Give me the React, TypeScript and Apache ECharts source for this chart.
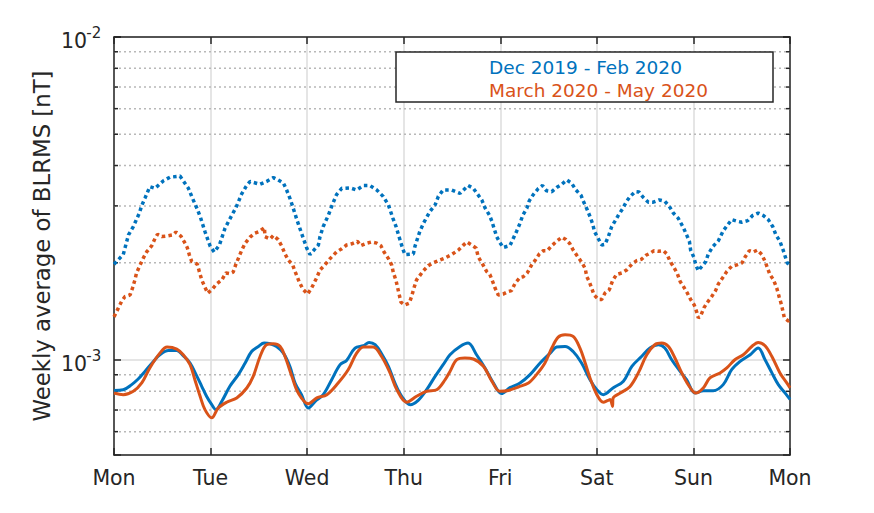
import React, { useEffect, useRef } from "react";
import * as echarts from "echarts";

// ---------- data ----------
const DAY_LABELS = ["Mon", "Tue", "Wed", "Thu", "Fri", "Sat", "Sun", "Mon"];
const SERIES_NAMES = ["Dec 2019 - Feb 2020", "March 2020 - May 2020"];
const COLORS = ["#0072BD", "#D95319"];
const Y_MIN = 5.08e-4;
const Y_MAX = 1e-2;
const Y_DECADES = [1e-3, 1e-2];
const Y_DECADE_EXPONENTS = ["-3", "-2"];
const MINOR_TICKS = [6e-4, 7e-4, 8e-4, 9e-4, 2e-3, 3e-3, 4e-3, 5e-3, 6e-3, 7e-3, 8e-3, 9e-3];

// [hour of week, value in nT]
const WINTER_DOTTED = [
  [0, 1.98e-3], [2.3, 2.12e-3], [3.6, 2.44e-3], [4.8, 2.59e-3], [6.3, 2.85e-3], [6.9, 3.01e-3], [7.7, 3.17e-3],
  [8.9, 3.44e-3], [10.2, 3.40e-3], [12.3, 3.59e-3], [13.9, 3.68e-3], [16.4, 3.71e-3], [18.5, 3.40e-3], [19.3, 3.21e-3],
  [20.7, 2.93e-3], [21.5, 2.76e-3], [22.6, 2.50e-3], [23.9, 2.25e-3], [24.9, 2.16e-3], [26.2, 2.27e-3], [27.6, 2.56e-3],
  [29.3, 2.81e-3], [30.3, 2.96e-3], [31.7, 3.26e-3], [32.8, 3.44e-3], [33.8, 3.57e-3], [36.3, 3.50e-3], [37.9, 3.57e-3],
  [39.6, 3.67e-3], [40.8, 3.61e-3], [42.1, 3.53e-3], [42.9, 3.36e-3], [43.7, 3.17e-3], [44.4, 2.99e-3], [45.4, 2.73e-3],
  [46.6, 2.47e-3], [47.9, 2.22e-3], [48.7, 2.12e-3], [50.8, 2.27e-3], [51.2, 2.41e-3], [52.0, 2.59e-3], [53.3, 2.81e-3],
  [54.1, 2.99e-3], [55.3, 3.25e-3], [56.6, 3.40e-3], [58.7, 3.41e-3], [60.3, 3.36e-3], [62.0, 3.47e-3], [63.6, 3.47e-3],
  [65.3, 3.36e-3], [66.9, 3.21e-3], [68.2, 3.02e-3], [69.3, 2.75e-3], [70.1, 2.59e-3], [70.7, 2.44e-3], [71.7, 2.22e-3],
  [72.3, 2.12e-3], [74.4, 2.13e-3], [74.8, 2.25e-3], [76.0, 2.50e-3], [76.9, 2.65e-3], [78.5, 2.88e-3], [79.8, 3.02e-3],
  [80.6, 3.21e-3], [81.8, 3.36e-3], [83.9, 3.36e-3], [86.0, 3.28e-3], [88.0, 3.47e-3], [89.3, 3.40e-3], [91.4, 3.13e-3],
  [92.2, 2.96e-3], [93.3, 2.81e-3], [93.9, 2.69e-3], [95.1, 2.41e-3], [95.8, 2.32e-3], [96.7, 2.23e-3], [98.4, 2.26e-3],
  [100.1, 2.51e-3], [100.9, 2.65e-3], [101.6, 2.81e-3], [102.6, 2.95e-3], [103.2, 3.11e-3], [104.2, 3.25e-3], [105.4, 3.39e-3],
  [106.5, 3.47e-3], [107.5, 3.34e-3], [108.8, 3.32e-3], [110.0, 3.42e-3], [111.3, 3.50e-3], [112.5, 3.61e-3], [113.7, 3.53e-3],
  [114.8, 3.36e-3], [116.1, 3.23e-3], [116.6, 3.11e-3], [117.5, 2.94e-3], [118.3, 2.78e-3], [119.0, 2.63e-3], [119.4, 2.50e-3],
  [120.4, 2.37e-3], [121.2, 2.27e-3], [122.0, 2.28e-3], [122.8, 2.40e-3], [123.7, 2.59e-3], [124.5, 2.69e-3], [125.3, 2.80e-3],
  [126.4, 2.94e-3], [127.4, 3.10e-3], [128.2, 3.20e-3], [129.5, 3.32e-3], [130.5, 3.31e-3], [131.5, 3.19e-3], [132.8, 3.08e-3],
  [134.0, 3.08e-3], [135.5, 3.13e-3], [136.9, 3.10e-3], [138.0, 2.99e-3], [139.0, 2.85e-3], [140.2, 2.75e-3], [141.5, 2.57e-3],
  [142.3, 2.44e-3], [143.0, 2.33e-3], [143.3, 2.19e-3], [144.1, 2.08e-3], [144.6, 1.97e-3], [145.2, 1.89e-3], [146.1, 1.95e-3],
  [147.1, 2.02e-3], [147.7, 2.13e-3], [148.9, 2.25e-3], [150.2, 2.34e-3], [151.4, 2.51e-3], [152.4, 2.61e-3], [153.5, 2.72e-3],
  [154.8, 2.69e-3], [156.0, 2.67e-3], [157.5, 2.70e-3], [158.7, 2.80e-3], [160.1, 2.85e-3], [161.4, 2.80e-3], [162.6, 2.72e-3],
  [163.7, 2.59e-3], [164.5, 2.44e-3], [165.5, 2.33e-3], [166.3, 2.19e-3], [167.3, 2.00e-3], [168, 1.95e-3],
];

const SPRING_DOTTED = [
  [0, 1.36e-3], [1.1, 1.45e-3], [1.9, 1.52e-3], [2.7, 1.57e-3], [4.0, 1.59e-3], [4.6, 1.67e-3], [5.2, 1.77e-3],
  [5.6, 1.86e-3], [6.5, 1.97e-3], [7.3, 2.07e-3], [8.1, 2.16e-3], [9.4, 2.26e-3], [10.2, 2.38e-3], [10.8, 2.45e-3],
  [11.9, 2.41e-3], [13.1, 2.42e-3], [14.7, 2.44e-3], [15.4, 2.49e-3], [16.6, 2.42e-3], [17.4, 2.33e-3], [18.2, 2.23e-3],
  [18.7, 2.12e-3], [19.3, 2.02e-3], [20.7, 1.98e-3], [21.2, 1.88e-3], [21.8, 1.77e-3], [22.6, 1.68e-3], [23.3, 1.61e-3],
  [24.5, 1.66e-3], [25.5, 1.72e-3], [26.8, 1.77e-3], [27.8, 1.86e-3], [28.8, 1.85e-3], [29.6, 1.87e-3], [30.3, 1.98e-3],
  [31.7, 2.18e-3], [32.6, 2.30e-3], [33.8, 2.40e-3], [35.0, 2.47e-3], [36.1, 2.50e-3], [37.4, 2.57e-3], [37.5, 2.41e-3],
  [38.8, 2.37e-3], [39.6, 2.43e-3], [40.8, 2.36e-3], [41.7, 2.25e-3], [42.5, 2.13e-3], [43.3, 2.04e-3], [44.4, 1.97e-3],
  [45.0, 1.88e-3], [46.0, 1.75e-3], [46.9, 1.66e-3], [48.1, 1.60e-3], [49.1, 1.67e-3], [50.4, 1.80e-3], [51.2, 1.90e-3],
  [52.4, 1.97e-3], [53.7, 2.06e-3], [55.3, 2.16e-3], [56.6, 2.21e-3], [57.8, 2.27e-3], [59.1, 2.29e-3], [60.5, 2.33e-3],
  [61.3, 2.26e-3], [62.8, 2.30e-3], [64.0, 2.32e-3], [65.3, 2.30e-3], [66.3, 2.26e-3], [67.1, 2.16e-3], [68.2, 2.06e-3],
  [69.0, 1.97e-3], [69.4, 1.87e-3], [70.1, 1.76e-3], [70.9, 1.59e-3], [71.3, 1.51e-3], [72.3, 1.48e-3], [73.4, 1.50e-3],
  [74.0, 1.58e-3], [74.6, 1.68e-3], [75.2, 1.77e-3], [76.9, 1.89e-3], [78.1, 1.96e-3], [79.4, 2.00e-3], [81.0, 2.04e-3],
  [82.3, 2.07e-3], [83.9, 2.12e-3], [85.6, 2.19e-3], [86.7, 2.26e-3], [87.7, 2.32e-3], [88.9, 2.27e-3], [90.0, 2.22e-3],
  [90.5, 2.09e-3], [91.6, 1.98e-3], [92.6, 1.88e-3], [93.4, 1.84e-3], [94.1, 1.75e-3], [94.7, 1.67e-3], [95.5, 1.59e-3],
  [96.7, 1.60e-3], [98.0, 1.63e-3], [98.8, 1.64e-3], [99.7, 1.73e-3], [100.9, 1.80e-3], [101.7, 1.81e-3], [102.7, 1.86e-3],
  [103.8, 1.97e-3], [104.6, 2.03e-3], [105.7, 2.13e-3], [106.7, 2.18e-3], [107.7, 2.18e-3], [108.8, 2.26e-3], [110.0, 2.33e-3],
  [111.3, 2.40e-3], [112.3, 2.36e-3], [113.3, 2.29e-3], [114.1, 2.19e-3], [115.0, 2.11e-3], [116.2, 2.01e-3], [117.1, 1.92e-3],
  [117.5, 1.81e-3], [118.1, 1.75e-3], [118.7, 1.67e-3], [119.3, 1.59e-3], [120.4, 1.54e-3], [121.2, 1.54e-3], [122.0, 1.61e-3],
  [123.1, 1.65e-3], [123.9, 1.76e-3], [124.9, 1.84e-3], [126.2, 1.86e-3], [127.4, 1.90e-3], [128.7, 1.98e-3], [129.9, 2.03e-3],
  [131.1, 2.05e-3], [132.2, 2.11e-3], [133.2, 2.14e-3], [134.2, 2.18e-3], [135.3, 2.17e-3], [136.5, 2.18e-3], [137.4, 2.13e-3],
  [138.2, 2.02e-3], [139.0, 1.95e-3], [140.0, 1.85e-3], [140.7, 1.75e-3], [141.5, 1.69e-3], [142.5, 1.61e-3], [143.3, 1.54e-3],
  [144.2, 1.48e-3], [144.8, 1.41e-3], [145.2, 1.35e-3], [145.8, 1.37e-3], [146.6, 1.45e-3], [147.5, 1.51e-3], [148.5, 1.57e-3],
  [149.5, 1.64e-3], [150.2, 1.72e-3], [151.3, 1.80e-3], [152.3, 1.88e-3], [153.5, 1.95e-3], [154.8, 1.97e-3], [156.1, 2.00e-3],
  [156.8, 2.08e-3], [157.9, 2.18e-3], [158.9, 2.16e-3], [159.9, 2.19e-3], [161.0, 2.12e-3], [161.8, 2.02e-3], [163.0, 1.84e-3],
  [163.9, 1.77e-3], [164.7, 1.67e-3], [165.3, 1.57e-3], [165.9, 1.48e-3], [166.6, 1.35e-3], [167.6, 1.32e-3], [168, 1.33e-3],
];

const WINTER_SOLID = [
  [0, 0.805e-3], [2.3, 0.809e-3], [4.4, 0.839e-3], [6.0, 0.873e-3], [7.7, 0.922e-3], [9.8, 0.990e-3], [11.4, 1.038e-3],
  [13.5, 1.070e-3], [15.6, 1.070e-3], [17.2, 1.031e-3], [18.9, 0.979e-3], [20.4, 0.901e-3], [21.8, 0.829e-3], [23.0, 0.772e-3],
  [24.3, 0.727e-3], [25.3, 0.702e-3], [26.8, 0.745e-3], [28.8, 0.829e-3], [30.9, 0.901e-3], [32.6, 0.979e-3], [34.2, 1.062e-3],
  [35.9, 1.101e-3], [37.3, 1.128e-3], [38.8, 1.123e-3], [40.4, 1.101e-3], [42.1, 1.050e-3], [43.7, 0.956e-3], [45.0, 0.849e-3],
  [46.6, 0.781e-3], [48.3, 0.710e-3], [50.0, 0.745e-3], [52.0, 0.781e-3], [54.1, 0.869e-3], [56.2, 0.967e-3], [57.8, 0.997e-3],
  [59.9, 1.089e-3], [62.0, 1.107e-3], [63.4, 1.133e-3], [64.9, 1.115e-3], [66.5, 1.046e-3], [68.2, 0.956e-3], [69.8, 0.849e-3],
  [71.5, 0.772e-3], [73.6, 0.727e-3], [75.6, 0.750e-3], [77.7, 0.809e-3], [79.8, 0.890e-3], [81.8, 0.967e-3], [83.5, 1.038e-3],
  [86.0, 1.101e-3], [88.0, 1.128e-3], [90.1, 1.038e-3], [92.2, 0.945e-3], [94.3, 0.849e-3], [96.3, 0.787e-3], [98.4, 0.821e-3],
  [100.9, 0.849e-3], [103.4, 0.901e-3], [105.9, 0.979e-3], [108.4, 1.050e-3], [110.0, 1.097e-3], [112.1, 1.101e-3], [114.1, 1.062e-3],
  [116.2, 0.979e-3], [118.3, 0.869e-3], [120.0, 0.809e-3], [121.6, 0.781e-3], [124.1, 0.821e-3], [126.6, 0.860e-3], [128.7, 0.956e-3],
  [131.1, 1.025e-3], [133.2, 1.089e-3], [135.3, 1.115e-3], [136.9, 1.089e-3], [138.6, 1.002e-3], [140.7, 0.922e-3], [142.3, 0.869e-3],
  [144.4, 0.790e-3], [146.5, 0.803e-3], [148.9, 0.803e-3], [151.4, 0.839e-3], [153.5, 0.933e-3], [155.6, 0.990e-3], [158.1, 1.038e-3],
  [160.1, 1.089e-3], [161.8, 1.002e-3], [163.5, 0.912e-3], [165.1, 0.839e-3], [166.8, 0.790e-3], [168, 0.755e-3],
];

const SPRING_SOLID = [
  [0, 0.790e-3], [2.3, 0.781e-3], [4.8, 0.800e-3], [6.9, 0.849e-3], [8.9, 0.945e-3], [11.4, 1.050e-3], [13.2, 1.097e-3],
  [15.6, 1.081e-3], [17.2, 1.038e-3], [18.9, 0.967e-3], [20.1, 0.869e-3], [21.4, 0.772e-3], [22.6, 0.702e-3], [24.3, 0.662e-3],
  [25.9, 0.710e-3], [28.0, 0.740e-3], [30.5, 0.763e-3], [33.0, 0.819e-3], [34.6, 0.890e-3], [36.3, 1.025e-3], [37.9, 1.115e-3],
  [39.6, 1.123e-3], [41.3, 1.101e-3], [42.5, 1.025e-3], [44.2, 0.890e-3], [45.8, 0.790e-3], [48.3, 0.732e-3], [50.4, 0.763e-3],
  [52.9, 0.781e-3], [55.7, 0.849e-3], [58.2, 0.933e-3], [60.3, 1.050e-3], [62.0, 1.097e-3], [64.4, 1.097e-3], [66.5, 1.025e-3],
  [68.6, 0.912e-3], [70.3, 0.809e-3], [72.7, 0.740e-3], [75.2, 0.772e-3], [77.7, 0.800e-3], [80.2, 0.809e-3], [82.3, 0.869e-3],
  [83.5, 0.922e-3], [85.2, 1.002e-3], [87.2, 1.014e-3], [89.3, 1.007e-3], [91.8, 0.956e-3], [93.9, 0.860e-3], [95.9, 0.800e-3],
  [98.0, 0.805e-3], [100.5, 0.825e-3], [103.0, 0.849e-3], [105.0, 0.901e-3], [107.1, 0.979e-3], [108.8, 1.089e-3], [110.4, 1.177e-3],
  [112.1, 1.197e-3], [114.1, 1.183e-3], [115.8, 1.089e-3], [117.1, 0.979e-3], [118.3, 0.880e-3], [120.0, 0.781e-3], [121.6, 0.740e-3],
  [122.8, 0.750e-3], [123.3, 0.754e-3], [123.9, 0.718e-3], [124.0, 0.760e-3], [125.8, 0.790e-3], [128.2, 0.827e-3], [130.3, 0.912e-3],
  [132.4, 1.038e-3], [134.4, 1.115e-3], [136.1, 1.128e-3], [137.8, 1.101e-3], [139.4, 1.014e-3], [141.1, 0.912e-3], [142.7, 0.839e-3],
  [144.6, 0.790e-3], [146.5, 0.821e-3], [148.1, 0.880e-3], [150.6, 0.912e-3], [152.3, 0.945e-3], [154.3, 1.002e-3], [156.4, 1.038e-3],
  [158.5, 1.101e-3], [160.1, 1.133e-3], [161.8, 1.107e-3], [163.5, 1.025e-3], [165.5, 0.912e-3], [167.2, 0.849e-3], [168, 0.820e-3],
];

// ---------- styling ----------
const FONT = "DejaVu Sans";
const INK = "#262626";
const GRID = "#dcdcdc";

export default function App() {
  const ref = useRef<HTMLDivElement>(null);

  useEffect(() => {
    if (!ref.current) return;
    const chart = echarts.init(ref.current, undefined, { renderer: "svg" });

    const axisLine = { show: true, onZero: false, lineStyle: { color: INK, width: 1.5 } };
    const axisTick = { show: true, inside: true, length: 7, lineStyle: { color: INK, width: 1.5 } };

    const legendBox = {
      id: "legend-box",
      type: "rect", x: 396, y: 52, z: 4,
      shape: { x: 0, y: 0, width: 377, height: 50 },
      style: { fill: "#ffffff", stroke: INK, lineWidth: 1.5 },
      silent: true,
    };

    const option: any = {
      animation: false,
      backgroundColor: "#ffffff",
      textStyle: { fontFamily: FONT },
      grid: { left: 114, right: 84, top: 37, bottom: 58, containLabel: false },
      xAxis: [
        {
          type: "value", min: 0, max: 168, interval: 24, position: "bottom",
          axisLine, axisTick,
          axisLabel: {
            color: INK, fontSize: 20.5, fontFamily: FONT, margin: 12,
            formatter: (v: number) => DAY_LABELS[Math.round(v / 24)],
          },
          splitLine: { show: true, lineStyle: { color: GRID, width: 1.5 } },
        },
        {
          type: "value", min: 0, max: 168, interval: 24, position: "top",
          axisLine, axisTick, axisLabel: { show: false }, splitLine: { show: false },
        },
      ],
      yAxis: [
        {
          type: "log", logBase: 10, min: Y_MIN, max: Y_MAX, position: "left",
          axisLine, axisTick,
          axisLabel: { show: false },
          splitLine: { show: true, lineStyle: { color: GRID, width: 1.5 } },
          name: "Weekly average of BLRMS [nT]",
          nameLocation: "middle",
          nameGap: 61,
          nameTextStyle: { color: INK, fontSize: 22.8, fontFamily: FONT },
        },
        {
          type: "log", logBase: 10, min: Y_MIN, max: Y_MAX, position: "right",
          axisLine, axisTick, axisLabel: { show: false }, splitLine: { show: false },
        },
      ],
      legend: {
        data: SERIES_NAMES.map((n, i) => ({ name: n, textStyle: { color: COLORS[i] } })),
        orient: "vertical",
        left: 484,
        top: 58,
        padding: 0,
        itemGap: 4,
        itemWidth: 0,
        itemHeight: 14,
        icon: "rect",
        itemStyle: { opacity: 0 },
        lineStyle: { opacity: 0 },
        selectedMode: false,
        textStyle: { fontSize: 18.5, fontFamily: FONT },
        z: 6,
      },
      graphic: [legendBox],
      series: [
        {
          type: "custom",
          silent: true,
          z: 1,
          xAxisIndex: 0,
          yAxisIndex: 0,
          data: MINOR_TICKS.map((v) => [0, v]),
          encode: { x: 0, y: 1 },
          renderItem: (params: any, api: any) => {
            const cs = params.coordSys;
            const y = api.coord([0, api.value(1)])[1];
            const l = cs.x;
            const r = cs.x + cs.width;
            return {
              type: "group",
              children: [
                { type: "line", shape: { x1: l, y1: y, x2: r, y2: y }, style: { stroke: "#b8b8b8", lineWidth: 1.5, lineDash: [2, 3] } },
                { type: "line", shape: { x1: l, y1: y, x2: l + 4, y2: y }, style: { stroke: INK, lineWidth: 1.5 } },
                { type: "line", shape: { x1: r - 4, y1: y, x2: r, y2: y }, style: { stroke: INK, lineWidth: 1.5 } },
              ],
            };
          },
        },
        {
          name: SERIES_NAMES[0], type: "line", data: WINTER_DOTTED, showSymbol: false, z: 2,
          lineStyle: { color: COLORS[0], width: 3.5, type: [3.5, 3.2] }, itemStyle: { color: COLORS[0] },
        },
        {
          name: SERIES_NAMES[1], type: "line", data: SPRING_DOTTED, showSymbol: false, z: 2,
          lineStyle: { color: COLORS[1], width: 3.5, type: [3.5, 3.2] }, itemStyle: { color: COLORS[1] },
        },
        {
          name: SERIES_NAMES[0], type: "line", data: WINTER_SOLID, showSymbol: false, z: 2, smooth: 0.35,
          lineStyle: { color: COLORS[0], width: 3 }, itemStyle: { color: COLORS[0] },
        },
        {
          name: SERIES_NAMES[1], type: "line", data: SPRING_SOLID, showSymbol: false, z: 2, smooth: 0.35,
          lineStyle: { color: COLORS[1], width: 3 }, itemStyle: { color: COLORS[1] },
        },
      ],
    };

    chart.setOption(option);

    // Decade tick labels (10 with superscript exponent), placed on the axis' own scale.
    const labelGraphics: any[] = [legendBox];
    Y_DECADES.forEach((v, i) => {
      const py = chart.convertToPixel({ yAxisIndex: 0 }, v) as number;
      labelGraphics.push({
        id: `ylab-base-${i}`,
        type: "text", x: 87, y: py + 4, z: 6, silent: true,
        style: { text: "10", fontSize: 20.5, fontFamily: FONT, fill: INK, align: "right", verticalAlign: "middle" },
      });
      labelGraphics.push({
        id: `ylab-exp-${i}`,
        type: "text", x: 86.3, y: py - 4, z: 6, silent: true,
        style: { text: Y_DECADE_EXPONENTS[i], fontSize: 15, fontFamily: FONT, fill: INK, align: "left", verticalAlign: "middle" },
      });
    });
    chart.setOption({ graphic: labelGraphics });

    return () => chart.dispose();
  }, []);

  return (
    <div
      ref={ref}
      style={{ position: "fixed", left: 0, top: 0, width: 874, height: 513, background: "#fff" }}
    />
  );
}
